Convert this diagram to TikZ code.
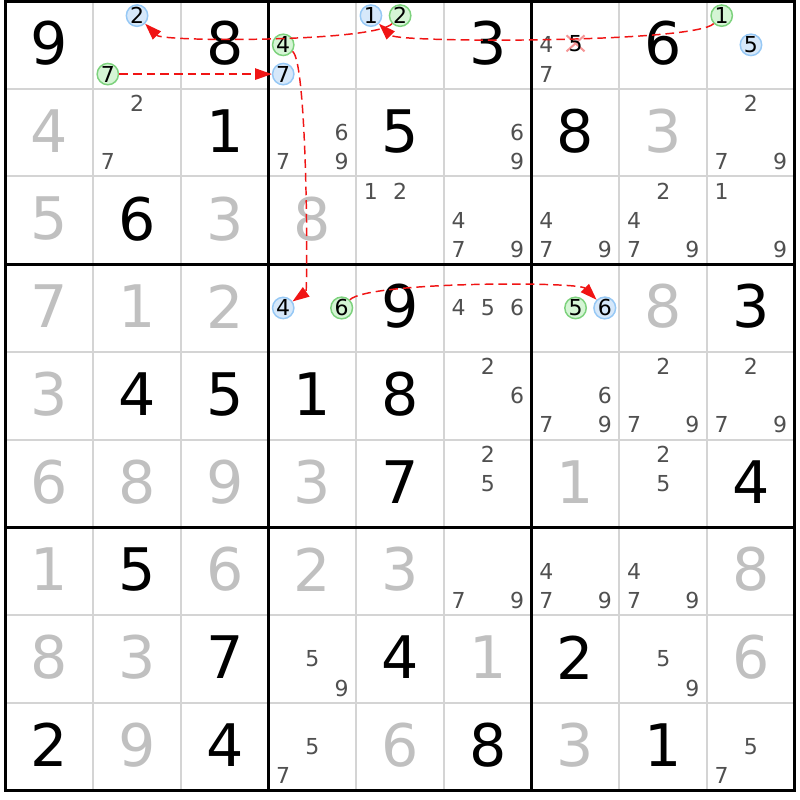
\documentclass[tikz,border=0pt]{standalone}
\usepackage{fontspec}
\setmainfont{DejaVu Sans}
\usetikzlibrary{arrows.meta}
\definecolor{solvedc}{RGB}{192,192,192}
\definecolor{candc}{RGB}{80,80,80}
\definecolor{thinc}{RGB}{212,212,212}
\definecolor{bfill}{RGB}{214,232,250}
\definecolor{bline}{RGB}{150,200,245}
\definecolor{gfill}{RGB}{213,245,213}
\definecolor{gline}{RGB}{125,210,125}
\definecolor{arrred}{RGB}{240,20,20}
\definecolor{xpink}{RGB}{245,150,150}
\def\gx{5.5}
\def\gy{1}
\def\cs{87.7}
\begin{document}
\begin{tikzpicture}[x=0.75pt,y=0.75pt,
  given/.style={inner sep=0pt,font=\fontsize{44}{44}\selectfont,text=black},
  solvedd/.style={given,text=solvedc},
  cand/.style={inner sep=0pt,font=\fontsize{16.5}{16.5}\selectfont,text=candc},
  bc/.style={circle,inner sep=0pt,minimum size=16pt,draw=bline,fill=bfill,line width=1.1pt,font=\fontsize{16.5}{16.5}\selectfont,text=black},
  gc/.style={bc,draw=gline,fill=gfill},
  arr/.style={draw=arrred,line width=1.1pt,dash pattern=on 6.5pt off 3.75pt,-{Triangle[length=12.5pt,width=8.5pt,fill=arrred]}},
  thinline/.style={draw=thinc,line width=1.5pt},
  thickline/.style={draw=black,line width=2.25pt},
  crossline/.style={draw=xpink,line width=1.5pt}]
\fill[white] (0,0) rectangle (800,-800);
\useasboundingbox (0,0) rectangle (800,-800);
% grid
\foreach \i in {1,2,4,5,7,8}{
  \draw[thinline] ({\gx+\i*\cs},{-\gy}) -- ({\gx+\i*\cs},{-\gy-9*\cs});
  \draw[thinline] ({\gx},{-\gy-\i*\cs}) -- ({\gx+9*\cs},{-\gy-\i*\cs});
}
\foreach \i in {3,6}{
  \draw[thickline] ({\gx+\i*\cs},{-\gy}) -- ({\gx+\i*\cs},{-\gy-9*\cs});
  \draw[thickline] ({\gx},{-\gy-\i*\cs}) -- ({\gx+9*\cs},{-\gy-\i*\cs});
}
\draw[thickline] ({\gx},{-\gy}) rectangle ({\gx+9*\cs},{-\gy-9*\cs});
% givens
\foreach \r/\c/\d in {1/1/9,1/3/8,1/6/3,1/8/6,2/3/1,2/5/5,2/7/8,3/2/6,4/5/9,4/9/3,5/2/4,5/3/5,5/4/1,5/5/8,6/5/7,6/9/4,7/2/5,8/3/7,8/5/4,8/7/2,9/1/2,9/3/4,9/6/8,9/8/1}{
  \pgfmathsetmacro\px{\gx+(\c-0.5)*\cs}
  \pgfmathsetmacro\py{-(\gy+(\r-0.5)*\cs-1.5)}
  \node[given] (giv\r\c) at (\px,\py) {\d};
}
% solved
\foreach \r/\c/\d in {2/1/4,2/8/3,3/1/5,3/3/3,3/4/8,4/1/7,4/2/1,4/3/2,4/8/8,5/1/3,6/1/6,6/2/8,6/3/9,6/4/3,6/7/1,7/1/1,7/3/6,7/4/2,7/5/3,7/9/8,8/1/8,8/2/3,8/6/1,8/9/6,9/2/9,9/5/6,9/7/3}{
  \pgfmathsetmacro\px{\gx+(\c-0.5)*\cs}
  \pgfmathsetmacro\py{-(\gy+(\r-0.5)*\cs-1.5)}
  \node[solvedd] (sol\r\c) at (\px,\py) {\d};
}
% candidates
\foreach \r/\c/\d in {1/7/4,1/7/7,
  2/2/2,2/2/7,2/4/6,2/4/7,2/4/9,2/6/6,2/6/9,2/9/2,2/9/7,2/9/9,
  3/5/1,3/5/2,3/6/4,3/6/7,3/6/9,3/7/4,3/7/7,3/7/9,3/8/2,3/8/4,3/8/7,3/8/9,3/9/1,3/9/9,
  4/6/4,4/6/5,4/6/6,
  5/6/2,5/6/6,5/7/6,5/7/7,5/7/9,5/8/2,5/8/7,5/8/9,5/9/2,5/9/7,5/9/9,
  6/6/2,6/6/5,6/8/2,6/8/5,
  7/6/7,7/6/9,7/7/4,7/7/7,7/7/9,7/8/4,7/8/7,7/8/9,
  8/4/5,8/4/9,8/8/5,8/8/9,
  9/4/5,9/4/7,9/9/5,9/9/7}{
  \pgfmathsetmacro\px{\gx+(\c-1)*\cs+\cs/6+mod(\d-1,3)*\cs/3}
  \pgfmathsetmacro\py{-(\gy+(\r-1)*\cs+\cs/6+int((\d-1)/3)*\cs/3)}
  \node[cand] (cand\r\c\d) at (\px,\py) {\d};
}
% eliminated candidate
\pgfmathsetmacro\px{\gx+6*\cs+\cs/2}
\pgfmathsetmacro\py{-(\gy+\cs/2-1.5)}
\coordinate (x175) at (\px,\py);
\draw[crossline] ([shift={(-9,8)}]x175) -- ([shift={(9,-8)}]x175);
\draw[crossline] ([shift={(9,8)}]x175) -- ([shift={(-9,-8)}]x175);
\node[cand,text=black] (cand175) at (x175) {5};
% circled candidates
\foreach \r/\c/\d in {1/2/2,1/4/7,1/5/1,1/9/5,4/4/4,4/7/6}{
  \pgfmathsetmacro\px{\gx+(\c-1)*\cs+\cs/6+mod(\d-1,3)*\cs/3}
  \pgfmathsetmacro\py{-(\gy+(\r-1)*\cs+\cs/6+int((\d-1)/3)*\cs/3)}
  \node[bc] (b\r\c) at (\px,\py) {\d};
}
\foreach \r/\c/\d in {1/2/7,1/4/4,1/5/2,1/9/1,4/4/6,4/7/5}{
  \pgfmathsetmacro\px{\gx+(\c-1)*\cs+\cs/6+mod(\d-1,3)*\cs/3}
  \pgfmathsetmacro\py{-(\gy+(\r-1)*\cs+\cs/6+int((\d-1)/3)*\cs/3)}
  \node[gc] (g\r\c) at (\px,\py) {\d};
}
% links
\draw[arr] (g12) -- (b14);
\draw[arr] (g14) to[bend left=55,looseness=0.19] (b44);
\draw[arr] (g15) to[bend left=45,looseness=0.27] (b12);
\draw[arr] (g19) to[bend left=45,looseness=0.21] (b15);
\draw[arr] (g44) to[bend left=45,looseness=0.27] (b47);
\end{tikzpicture}
\end{document}
